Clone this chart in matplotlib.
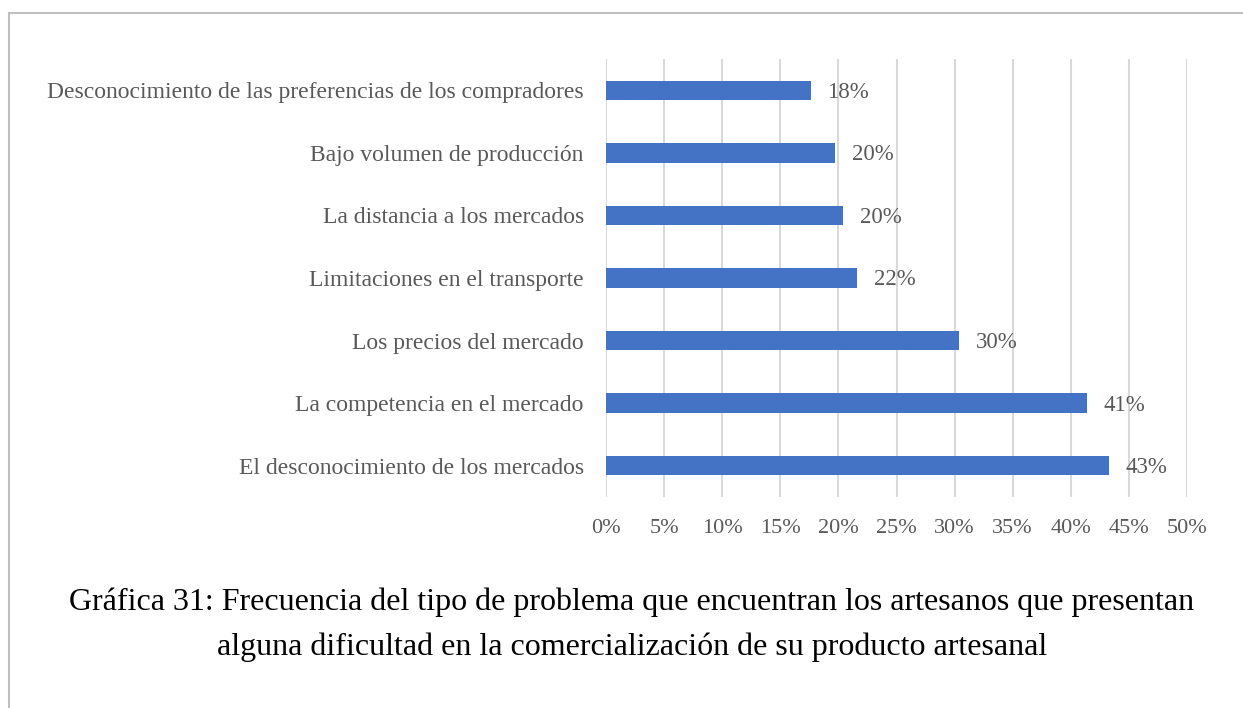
import matplotlib
matplotlib.use("Agg")
import matplotlib.pyplot as plt
from matplotlib.lines import Line2D
from matplotlib.ticker import MultipleLocator, FuncFormatter

# data, bottom bar first
problemas = [
    "El desconocimiento de los mercados",
    "La competencia en el mercado",
    "Los precios del mercado",
    "Limitaciones en el transporte",
    "La distancia a los mercados",
    "Bajo volumen de producción",
    "Desconocimiento de las preferencias de los compradores",
]
porcentajes = [43.3, 41.4, 30.4, 21.6, 20.4, 19.7, 17.6]

BLUE = "#4472C4"; GRAYTXT = "#595959"; GRID = "#D9D9D9"; BORDER = "#BFBFBF"
plt.rcParams["font.family"] = ["Liberation Serif", "DejaVu Serif"]

W, H = 1243, 708
fig = plt.figure(figsize=(W / 100, H / 100), dpi=100)
fig.patch.set_facecolor("white")
ax = fig.add_axes([606 / W, 1 - 497 / H, 581 / W, 438 / H])

ypos = range(len(problemas))
ax.barh(ypos, porcentajes, height=0.31, color=BLUE, zorder=3)
for y, v in zip(ypos, porcentajes):
    ax.text(v + 1.45, y - 0.03, f"{v:.0f}%", va="center", ha="left", fontsize=16.5, color=GRAYTXT)

ax.set_xlim(0, 50)
ax.set_ylim(-0.5, len(problemas) - 0.5)
ax.xaxis.set_major_locator(MultipleLocator(5))
ax.xaxis.set_major_formatter(FuncFormatter(lambda x, _: f"{x:.0f}%"))
ax.set_yticks(list(ypos))
ax.set_yticklabels(problemas)
ax.tick_params(axis="both", length=0, labelcolor=GRAYTXT)
ax.tick_params(axis="x", pad=16, labelsize=16)
ax.tick_params(axis="y", pad=16, labelsize=17)
ax.grid(axis="x", color=GRID, lw=1.5, zorder=0)
for s in ax.spines.values():
    s.set_visible(False)

# frame lines around the chart area
fig.add_artist(Line2D([9 / W, 1], [1 - 13 / H] * 2, color=BORDER, lw=1.5, transform=fig.transFigure))
fig.add_artist(Line2D([9 / W] * 2, [0, 1 - 13 / H], color=BORDER, lw=1.5, transform=fig.transFigure))

fig.text(632 / W, 1 - 602 / H,
         "Gráfica 31: Frecuencia del tipo de problema que encuentran los artesanos que presentan",
         ha="center", va="center", fontsize=23, color="black")
fig.text(632 / W, 1 - 647 / H,
         "alguna dificultad en la comercialización de su producto artesanal",
         ha="center", va="center", fontsize=23, color="black")

fig.savefig("out.png", dpi=100)
